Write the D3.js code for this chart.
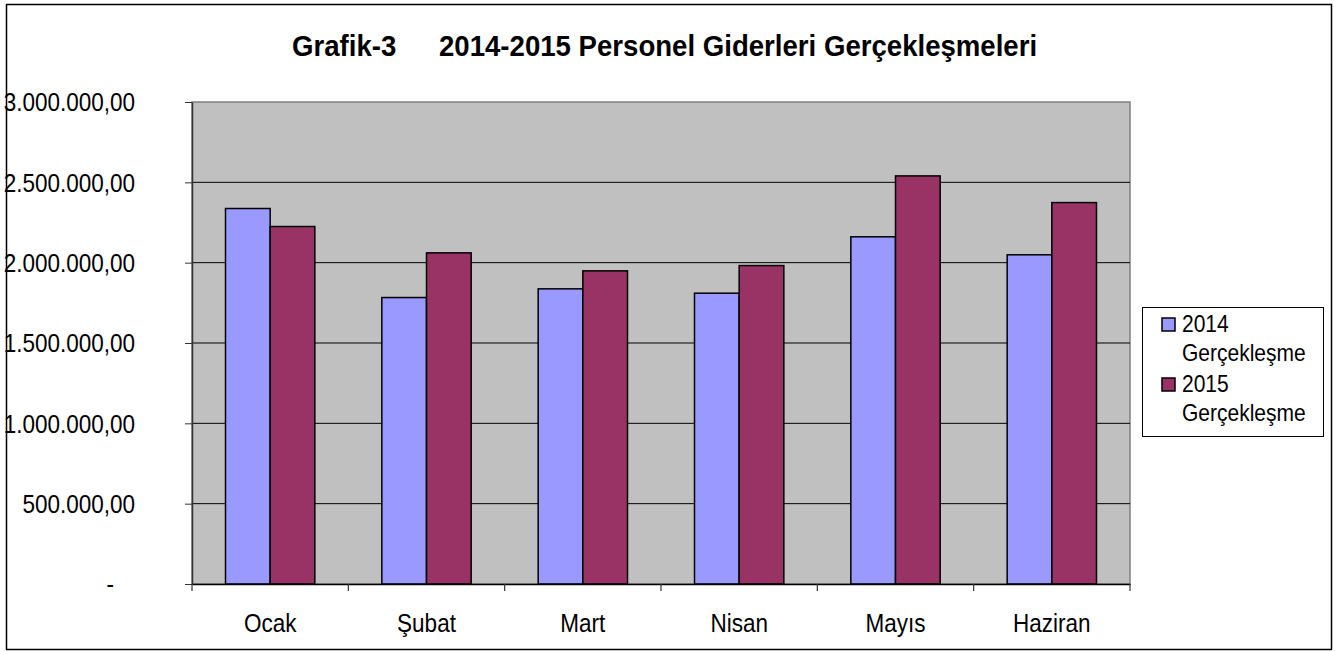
<!DOCTYPE html>
<html>
<head>
<meta charset="utf-8">
<script src="https://cdn.jsdelivr.net/npm/d3@7"></script>
<style>
  body { margin: 0; background: #fff; }
  svg { display: block; font-family: "Liberation Sans", Arial, sans-serif; }
</style>
</head>
<body>
<div id="chart"></div>
<script>
// data
var months = ["Ocak", "Şubat", "Mart", "Nisan", "Mayıs", "Haziran"];
var series = ["2014 Gerçekleşme", "2015 Gerçekleşme"];
var values2014 = [2337000, 1783000, 1837000, 1810000, 2161000, 2049000];
var values2015 = [2225000, 2061000, 1949000, 1982000, 2540000, 2374000];
var yTicks = [0, 500000, 1000000, 1500000, 2000000, 2500000, 3000000];
var colors = ["#9999FF", "#993366"];

var W = 1338, H = 651;
var plot = {left: 192, right: 1130, top: 102, bottom: 584};
var SY = 1.16; // text in the picture is a bit taller than wide

var tr = d3.formatLocale({decimal: ",", thousands: ".", grouping: [3], currency: ["", ""]});
var fmt = tr.format(",.2f");

var svg = d3.select("#chart").append("svg").attr("width", W).attr("height", H);

// outer frame
svg.append("rect").attr("x", 6.5).attr("y", 4.5).attr("width", 1325).attr("height", 645)
  .attr("fill", "#fff").attr("stroke", "#000").attr("stroke-width", 1.5);

var x0 = d3.scaleBand().domain(months).range([plot.left, plot.right]);
var bw = x0.bandwidth();
var b = bw / 3.5;
var x1 = d3.scaleBand().domain(series).range([0.75 * b, 2.75 * b]);
var y = d3.scaleLinear().domain([0, 3000000]).range([plot.bottom, plot.top]);

// plot background
svg.append("rect").attr("x", plot.left).attr("y", plot.top)
  .attr("width", plot.right - plot.left).attr("height", plot.bottom - plot.top)
  .attr("fill", "#C0C0C0").attr("stroke", "#808080").attr("stroke-width", 1.5);

// gridlines
svg.append("g").selectAll("line").data(yTicks.slice(1, -1)).enter().append("line")
  .attr("x1", plot.left).attr("x2", plot.right)
  .attr("y1", function(d) { return y(d); }).attr("y2", function(d) { return y(d); })
  .attr("stroke", "#000").attr("stroke-width", 1);

// bars
var rows = months.map(function(m, i) { return {month: m, vals: [values2014[i], values2015[i]]}; });
var groups = svg.append("g").selectAll("g").data(rows).enter().append("g")
  .attr("transform", function(d) { return "translate(" + x0(d.month) + ",0)"; });
groups.selectAll("rect").data(function(d) { return d.vals; }).enter().append("rect")
  .attr("x", function(d, i) { return x1(series[i]); })
  .attr("y", function(d) { return y(d); })
  .attr("width", x1.bandwidth())
  .attr("height", function(d) { return y(0) - y(d); })
  .attr("fill", function(d, i) { return colors[i]; })
  .attr("stroke", "#000").attr("stroke-width", 1.5);

// y axis
var yAxis = d3.axisLeft(y).tickValues(yTicks).tickSize(7).tickSizeOuter(0).tickPadding(50)
  .tickFormat(function(d) { return d === 0 ? "-" : fmt(d); });
var yg = svg.append("g").attr("transform", "translate(" + plot.left + ",0)").call(yAxis);
yg.select(".domain").attr("stroke", "#333").attr("stroke-width", 1.5);
yg.selectAll(".tick line").attr("stroke", "#333");
yg.selectAll(".tick text").attr("font-size", 22.5).attr("fill", "#000")
  .attr("font-family", "Liberation Sans, Arial, sans-serif")
  .attr("dy", "0.34em").attr("transform", "scale(1," + SY + ")")
  .attr("x", function(d) { return d === 0 ? -78 : -57; });

// x axis
var xAxis = d3.axisBottom(x0).tickSize(0).tickSizeOuter(0);
var xg = svg.append("g").attr("transform", "translate(0," + plot.bottom + ")").call(xAxis);
xg.select(".domain").attr("stroke", "#000").attr("stroke-width", 1.5);
xg.selectAll(".tick text").attr("font-size", 22.5).attr("fill", "#000")
  .attr("font-family", "Liberation Sans, Arial, sans-serif")
  .attr("dy", 0).attr("y", 48 / SY).attr("transform", "scale(1," + SY + ")");
// tick marks between categories
var bounds = months.map(function(m) { return x0(m); }).concat([plot.right]);
xg.selectAll(".sep").data(bounds).enter().append("line").attr("class", "sep")
  .attr("x1", function(d) { return d; }).attr("x2", function(d) { return d; })
  .attr("y1", 0).attr("y2", 7).attr("stroke", "#333").attr("stroke-width", 1.2);

// title
var title = svg.append("text").attr("transform", "translate(0,56) scale(1,1.1)")
  .attr("font-size", 27.6).attr("font-weight", "bold").attr("fill", "#000");
title.append("tspan").attr("x", 292).text("Grafik-3");
title.append("tspan").attr("x", 439).text("2014-2015 Personel Giderleri Gerçekleşmeleri");

// legend
var lg = svg.append("g");
lg.append("rect").attr("x", 1142.5).attr("y", 307.5).attr("width", 181).attr("height", 129)
  .attr("fill", "#fff").attr("stroke", "#000").attr("stroke-width", 1);
var items = lg.selectAll("g").data(series).enter().append("g")
  .attr("transform", function(d, i) { return "translate(0," + (i * 60) + ")"; });
items.append("rect").attr("x", 1162).attr("y", 318).attr("width", 13).attr("height", 13)
  .attr("fill", function(d, i) { return colors[i]; }).attr("stroke", "#000").attr("stroke-width", 1.5);
items.append("text").attr("transform", "translate(1182,332) scale(1," + SY + ")")
  .attr("font-size", 21).attr("fill", "#000").text(function(d) { return d.split(" ")[0]; });
items.append("text").attr("transform", "translate(1182,361) scale(1," + SY + ")")
  .attr("font-size", 21).attr("fill", "#000").text(function(d) { return d.split(" ")[1]; });
</script>
</body>
</html>
